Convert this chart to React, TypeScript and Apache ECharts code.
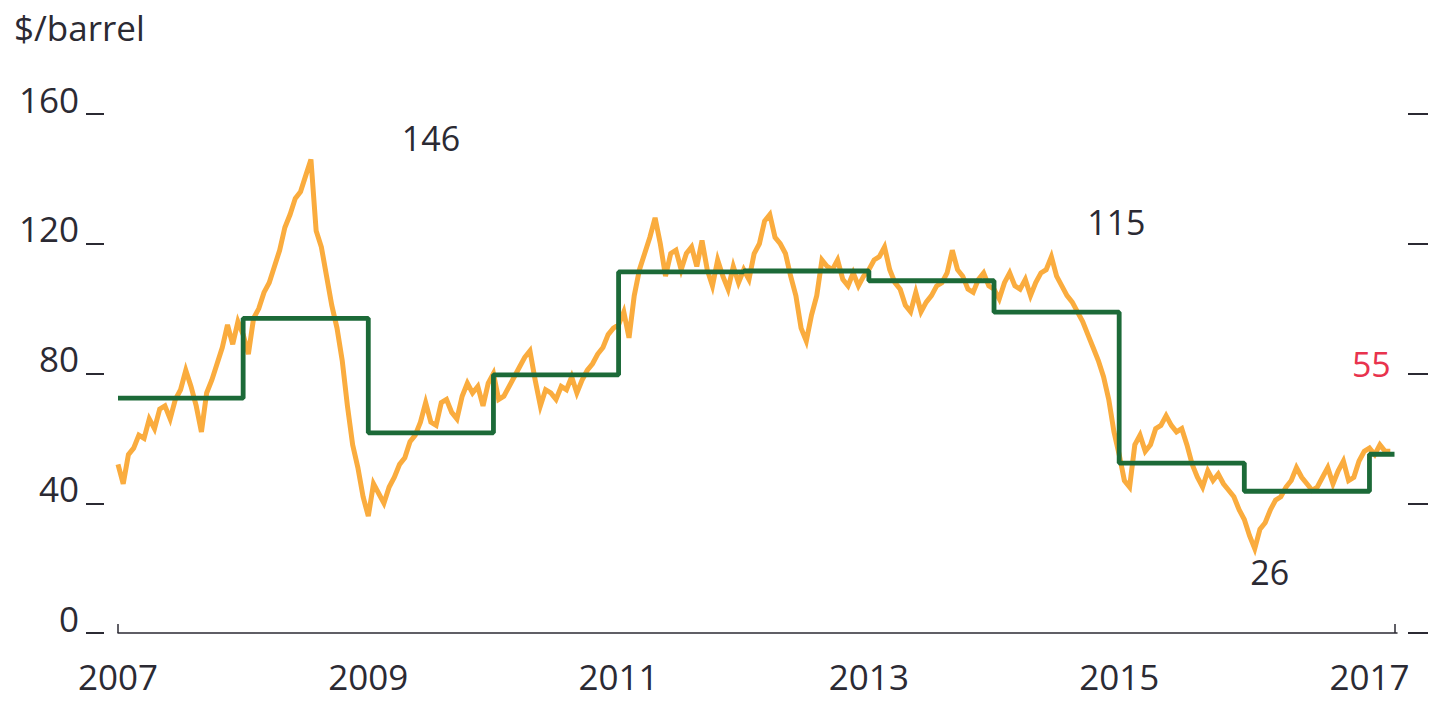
import React, { useEffect, useRef } from "react";
import * as echarts from "echarts";

// ---- data ----
const yearTicks = [2007, 2009, 2011, 2013, 2015, 2017];
const avgYears = [2007, 2008, 2009, 2010, 2011, 2012, 2013, 2014, 2015, 2016, 2017];
const annualAverage = [72.4, 97.0, 61.7, 79.6, 111.3, 111.6, 108.6, 98.9, 52.4, 43.7, 55.1];

// semi-monthly Brent readings ($/barrel), 24 per year
const brent2007 = [52, 46, 55, 57, 61, 60, 66, 63, 69, 70, 66, 72, 75, 81, 76, 70, 62, 74, 78, 83, 88, 95, 89, 96];
const brent2008 = [92, 86, 97, 100, 105, 108, 113, 118, 125, 129, 134, 136, 141, 146, 124, 119, 110, 101, 94, 84, 70, 58, 51, 42];
const brent2009 = [36, 46, 43, 40, 45, 48, 52, 54, 59, 61, 65, 71, 65, 64, 71, 72, 68, 66, 73, 77, 74, 76, 70, 77];
const brent2010 = [80, 72, 73, 76, 79, 82, 85, 87, 78, 70, 75, 74, 72, 76, 75, 79, 74, 78, 81, 83, 86, 88, 92, 94];
const brent2011 = [95, 99, 91, 104, 112, 117, 122, 128, 120, 110, 117, 118, 112, 117, 119, 113, 121, 112, 107, 115, 110, 106, 113, 108];
const brent2012 = [112, 109, 117, 120, 127, 129, 122, 120, 117, 110, 104, 94, 90, 98, 104, 115, 113, 112, 115, 109, 107, 111, 107, 110];
const brent2013 = [112, 115, 116, 119, 112, 108, 106, 101, 99, 105, 99, 102, 104, 107, 108, 111, 118, 112, 110, 106, 105, 109, 111, 107];
const brent2014 = [106, 103, 108, 111, 107, 106, 109, 104, 108, 111, 112, 116, 110, 107, 104, 102, 99, 96, 92, 88, 84, 79, 72, 62];
const brent2015 = [55, 47, 45, 58, 61, 56, 58, 63, 64, 67, 64, 62, 63, 58, 52, 48, 45, 50, 47, 49, 46, 44, 42, 38];
const brent2016 = [35, 30, 26, 32, 34, 38, 41, 42, 45, 47, 51, 48, 46, 44, 45, 48, 51, 46, 50, 53, 47, 48, 53, 56];
const brent2017 = [57, 55, 58, 56, 56];

const brentByYear = [brent2007, brent2008, brent2009, brent2010, brent2011, brent2012, brent2013, brent2014, brent2015, brent2016, brent2017];

const calloutLabels = ["146", "115", "26", "55"];

const FONT = "'Open Sans', 'Noto Sans', sans-serif";
const TEXT = "#2b2a33";
const ORANGE = "#FAAC3E";
const GREEN = "#1c6a38";
const RED = "#e8334d";

export default function App() {
  const ref = useRef<HTMLDivElement>(null);

  useEffect(() => {
    if (!ref.current) return;
    const chart = echarts.init(ref.current, undefined, { renderer: "svg" });

    const orangeData: [number, number][] = [];
    brentByYear.forEach((arr, yi) => {
      arr.forEach((v, j) => orangeData.push([2007 + yi + j / 24, v]));
    });

    const xMax = 2017.22;
    const stepData: [number, number][] = avgYears.map((y, i) => [y, annualAverage[i]]);
    stepData.push([2017.2, annualAverage[annualAverage.length - 1]]);

    // callout anchors from data
    let peak = orangeData[0];
    orangeData.forEach((p) => { if (p[1] > peak[1]) peak = p; });
    const pre2015 = orangeData.filter((p) => p[0] >= 2014 && p[0] < 2015);
    let peak14 = pre2015[0];
    pre2015.forEach((p) => { if (p[1] > peak14[1]) peak14 = p; });
    let low = orangeData[0];
    orangeData.forEach((p) => { if (p[1] < low[1]) low = p; });
    const last = orangeData[orangeData.length - 1];

    const calloutStyle = (offset: number[], color: string) => ({
      show: true,
      position: "inside",
      offset,
      fontFamily: FONT,
      fontSize: 34,
      color,
      formatter: "{b}",
    });

    chart.setOption({
      animation: false,
      title: {
        text: "$/barrel",
        left: 9,
        top: 5,
        textStyle: { fontFamily: FONT, fontSize: 35, fontWeight: "normal", color: TEXT },
      },
      grid: { left: 118, right: 48, top: 114, bottom: 68 },
      xAxis: {
        type: "value",
        min: 2007,
        max: xMax,
        splitLine: { show: false },
        axisLine: { show: true, onZero: false, lineStyle: { color: TEXT, width: 1.5 } },
        axisTick: {
          show: true,
          inside: true,
          length: 9,
          customValues: [2007, 2017.2],
          lineStyle: { color: TEXT, width: 1.5 },
        },
        axisLabel: {
          customValues: yearTicks,
          formatter: (v: number) => String(Math.round(v)),
          margin: 28,
          fontFamily: FONT,
          fontSize: 35,
          lineHeight: 30,
          color: TEXT,
        },
      },
      yAxis: [
        {
          type: "value",
          min: 0,
          max: 160,
          interval: 40,
          position: "left",
          offset: 14,
          splitLine: { show: false },
          axisLine: { show: false },
          axisTick: { show: true, length: 18, lineStyle: { color: TEXT, width: 2 } },
          axisLabel: {
            margin: 25,
            fontFamily: FONT,
            fontSize: 35,
            color: TEXT,
            verticalAlign: "bottom",
            lineHeight: 30,
          },
        },
        {
          type: "value",
          min: 0,
          max: 160,
          interval: 40,
          position: "right",
          offset: 11,
          splitLine: { show: false },
          axisLine: { show: false },
          axisTick: { show: true, length: 20, lineStyle: { color: TEXT, width: 2 } },
          axisLabel: { show: false },
        },
      ],
      series: [
        {
          type: "line",
          name: "Brent",
          data: orangeData,
          showSymbol: false,
          symbol: "none",
          lineStyle: { color: ORANGE, width: 5, join: "miter" },
          z: 2,
          markPoint: {
            symbol: "rect",
            symbolSize: 1,
            itemStyle: { color: "rgba(0,0,0,0)" },
            data: [
              { name: calloutLabels[0], coord: peak, label: calloutStyle([120, -21], TEXT) },
              { name: calloutLabels[1], coord: peak14, label: calloutStyle([65, -35], TEXT) },
              { name: calloutLabels[2], coord: low, label: calloutStyle([15, 23], TEXT) },
              { name: calloutLabels[3], coord: last, label: calloutStyle([-19, -87], RED) },
            ],
          },
        },
        {
          type: "line",
          name: "Annual average",
          data: stepData,
          step: "end",
          showSymbol: false,
          symbol: "none",
          lineStyle: { color: GREEN, width: 4.8 },
          z: 3,
        },
      ],
    });

    return () => chart.dispose();
  }, []);

  return (
    <div
      ref={ref}
      style={{ position: "absolute", left: 0, top: 0, width: 1445, height: 701 }}
    />
  );
}
